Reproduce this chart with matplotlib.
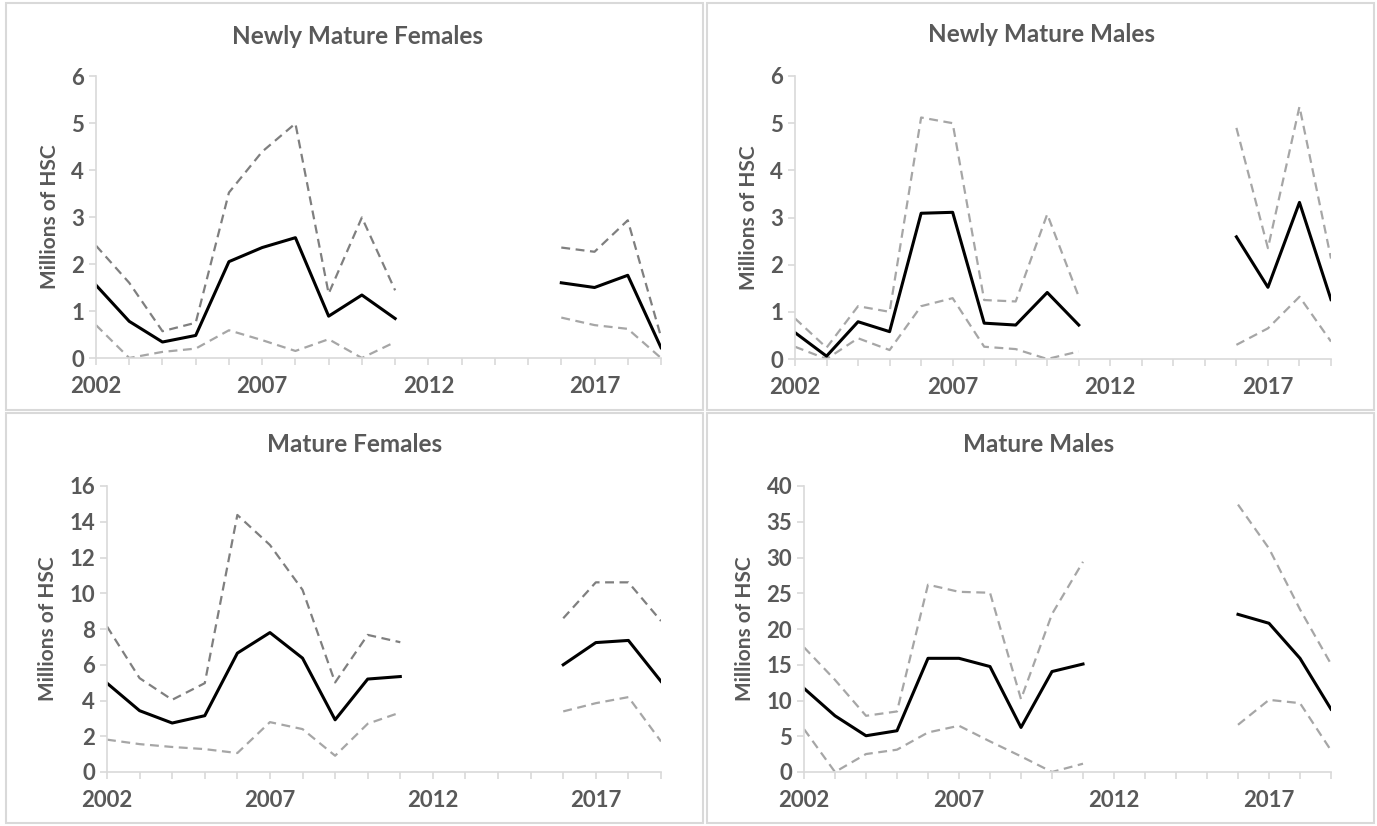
import numpy as np
import matplotlib
matplotlib.use("Agg")
import matplotlib.pyplot as plt
from matplotlib.patches import Rectangle

plt.rcParams['font.family'] = ['Lato', 'DejaVu Sans']

years = list(range(2002, 2020))
nan = np.nan

# newly mature females
nmf_mean = [1.55, 0.78, 0.34, 0.48, 2.05, 2.35, 2.56, 0.89, 1.34, 0.84, nan, nan, nan, nan, 1.60, 1.50, 1.76, 0.22]
nmf_upper = [2.39, 1.60, 0.57, 0.75, 3.52, 4.39, 4.99, 1.37, 2.99, 1.44, nan, nan, nan, nan, 2.35, 2.26, 2.93, 0.45]
nmf_lower = [0.70, 0.00, 0.13, 0.20, 0.59, 0.38, 0.15, 0.40, 0.00, 0.34, nan, nan, nan, nan, 0.86, 0.70, 0.62, 0.00]

# newly mature males
nmm_mean = [0.56, 0.06, 0.79, 0.58, 3.09, 3.11, 0.76, 0.72, 1.41, 0.72, nan, nan, nan, nan, 2.59, 1.52, 3.32, 1.26]
nmm_upper = [0.86, 0.24, 1.12, 1.00, 5.12, 5.00, 1.25, 1.22, 3.07, 1.32, nan, nan, nan, nan, 4.90, 2.35, 5.35, 2.13]
nmm_lower = [0.26, 0.00, 0.44, 0.19, 1.12, 1.29, 0.26, 0.21, 0.00, 0.16, nan, nan, nan, nan, 0.30, 0.65, 1.32, 0.37]

# mature females
mf_mean = [4.97, 3.43, 2.74, 3.15, 6.65, 7.80, 6.37, 2.92, 5.20, 5.34, nan, nan, nan, nan, 6.00, 7.24, 7.36, 5.07]
mf_upper = [8.14, 5.25, 4.04, 4.97, 14.38, 12.70, 10.19, 5.01, 7.67, 7.26, nan, nan, nan, nan, 8.60, 10.61, 10.61, 8.45]
mf_lower = [1.81, 1.56, 1.40, 1.28, 1.06, 2.79, 2.40, 0.91, 2.70, 3.33, nan, nan, nan, nan, 3.39, 3.85, 4.19, 1.71]

# mature males
mm_mean = [11.7, 7.86, 5.07, 5.77, 15.9, 15.9, 14.75, 6.23, 14.05, 15.1, nan, nan, nan, nan, 22.05, 20.8, 15.9, 8.79]
mm_upper = [17.44, 12.88, 7.86, 8.47, 26.2, 25.2, 25.07, 10.19, 22.09, 29.4, nan, nan, nan, nan, 37.4, 31.26, 22.74, 15.1]
mm_lower = [6.0, 0.0, 2.51, 3.12, 5.53, 6.47, 4.28, 2.19, 0.0, 1.16, nan, nan, nan, nan, 6.6, 10.09, 9.63, 3.02]

titles = ["Newly Mature Females", "Newly Mature Males", "Mature Females", "Mature Males"]
ymaxes = [6, 6, 16, 40]
ysteps = [1, 1, 2, 5]
xticklabels = [2002, 2007, 2012, 2017]

W, H = 1377, 826
fig = plt.figure(figsize=(W / 100, H / 100), dpi=100)

txt = "#595959"
axis_col = "#d9d9d9"
dark_dash = "#7f7f7f"
light_dash = "#a6a6a6"

# panel frames (pixels: left, top, right, bottom)
panels = [(6, 3, 703, 410), (707, 3, 1374, 410), (6, 413, 703, 823), (707, 413, 1374, 823)]
for (l, t, r, b) in panels:
    fig.patches.append(Rectangle((l / W, 1 - b / H), (r - l) / W, (b - t) / H,
                                 transform=fig.transFigure, fill=False,
                                 ec=axis_col, lw=1.5))

# axes boxes (pixels)
boxes = [(96, 76, 661, 358), (795, 76, 1331, 359), (107, 486, 661, 772), (804, 486, 1331, 772)]
title_pos = [(357, 36), (1041, 35), (355, 445), (1039, 445)]

data = [(nmf_mean, nmf_upper, nmf_lower, dark_dash),
        (nmm_mean, nmm_upper, nmm_lower, light_dash),
        (mf_mean, mf_upper, mf_lower, dark_dash),
        (mm_mean, mm_upper, mm_lower, light_dash)]

for i in range(4):
    l, t, r, b = boxes[i]
    ax = fig.add_axes([l / W, 1 - b / H, (r - l) / W, (b - t) / H])
    mean, upper, lower, up_col = data[i]
    ax.plot(years, upper, color=up_col, lw=1.6, dashes=(4, 2.5))
    ax.plot(years, lower, color=light_dash, lw=1.6, dashes=(4, 2.5))
    ax.plot(years, mean, color="black", lw=2.2)
    ax.set_xlim(2002, 2019)
    ax.set_ylim(0, ymaxes[i])
    ax.set_yticks(np.arange(0, ymaxes[i] + 0.1, ysteps[i]))
    ax.set_xticks(years)
    ax.set_xticklabels([str(y) if y in xticklabels else "" for y in years])
    for side in ["top", "right"]:
        ax.spines[side].set_visible(False)
    for side in ["left", "bottom"]:
        ax.spines[side].set_color(axis_col)
        ax.spines[side].set_linewidth(1.2)
    ax.tick_params(axis="both", color=axis_col, length=5, width=1.2,
                   labelcolor=txt, labelsize=16)
    ax.tick_params(axis="x", pad=8)
    for lab in ax.get_xticklabels() + ax.get_yticklabels():
        lab.set_fontweight("bold")
    ax.set_ylabel("Millions of HSC", color=txt, fontsize=15, fontweight="bold", labelpad=8)
    ax.patch.set_alpha(0)
    tx, ty = title_pos[i]
    fig.text(tx / W, 1 - ty / H, titles[i], ha="center", va="center",
             fontsize=17.5, fontweight="bold", color=txt)

plt.savefig("out.png", dpi=100)
